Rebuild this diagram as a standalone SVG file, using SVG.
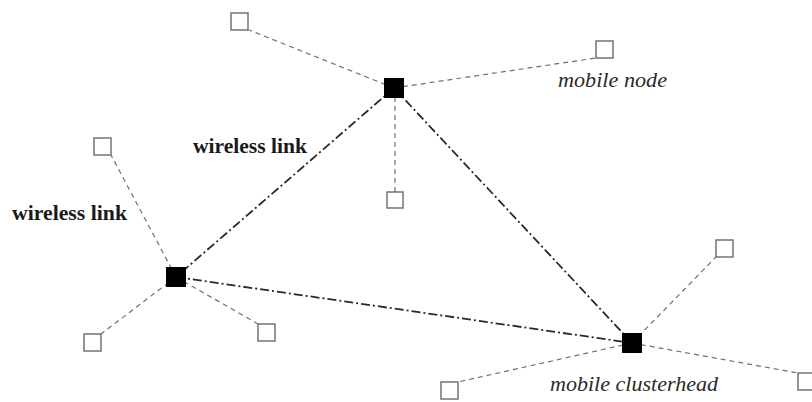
<svg xmlns="http://www.w3.org/2000/svg" width="812" height="402" viewBox="0 0 812 402">
  <style>
    .bg { fill: #ffffff; }
    .member { stroke: #707070; stroke-width: 1.2; stroke-dasharray: 5 4; fill: none; }
    .backbone { stroke: #2a2a2a; stroke-width: 1.8; stroke-dasharray: 9 3 2 3; fill: none; }
    .head { fill: #000000; }
    .node { fill: #ffffff; stroke: #6a6a6a; stroke-width: 1.4; }
    .lbl-b { font-family: "Liberation Serif", "Times New Roman", serif; font-weight: bold; font-size: 20.5px; fill: #1a1a1a; }
    .lbl-i { font-family: "Liberation Serif", "Times New Roman", serif; font-style: italic; font-size: 21px; fill: #2a2a2a; }
  </style>
  <rect class="bg" x="0" y="0" width="812" height="402"/>

  <g id="connectors">
    <!-- links between cluster heads -->
    <line class="backbone" x1="394" y1="88" x2="176" y2="277"/>
    <line class="backbone" x1="394" y1="88" x2="632" y2="343"/>
    <line class="backbone" x1="176" y1="277" x2="632" y2="343"/>
    <!-- members of the top cluster -->
    <line class="member" x1="394" y1="88" x2="249" y2="30"/>
    <line class="member" x1="394" y1="88" x2="596" y2="58"/>
    <line class="member" x1="395" y1="88" x2="395" y2="192"/>
    <!-- members of the left cluster -->
    <line class="member" x1="176" y1="277" x2="111" y2="155"/>
    <line class="member" x1="176" y1="277" x2="101" y2="334"/>
    <line class="member" x1="176" y1="277" x2="258" y2="324"/>
    <!-- members of the right cluster -->
    <line class="member" x1="632" y1="343" x2="716" y2="257"/>
    <line class="member" x1="632" y1="343" x2="458" y2="382"/>
    <line class="member" x1="632" y1="343" x2="798" y2="373"/>
  </g>

  <g id="ch-top"><rect class="head" x="384" y="78" width="20" height="20"/></g>
  <g id="ch-left"><rect class="head" x="166" y="267" width="20" height="20"/></g>
  <g id="ch-right"><rect class="head" x="622" y="333" width="20" height="20"/></g>

  <g id="mn-1"><rect class="node" x="231" y="13" width="17" height="17"/></g>
  <g id="mn-2"><rect class="node" x="596" y="41" width="17" height="17"/></g>
  <g id="mn-3"><rect class="node" x="387" y="192" width="16" height="16"/></g>
  <g id="mn-4"><rect class="node" x="94" y="138" width="17" height="17"/></g>
  <g id="mn-5"><rect class="node" x="84" y="334" width="17" height="17"/></g>
  <g id="mn-6"><rect class="node" x="258" y="324" width="17" height="17"/></g>
  <g id="mn-7"><rect class="node" x="716" y="240" width="17" height="17"/></g>
  <g id="mn-8"><rect class="node" x="441" y="382" width="17" height="17"/></g>
  <g id="mn-9"><rect class="node" x="798" y="373" width="17" height="17"/></g>

  <g id="labels">
    <text class="lbl-b" x="193" y="153" textLength="114" lengthAdjust="spacingAndGlyphs">wireless link</text>
    <text class="lbl-b" x="12" y="220" textLength="115" lengthAdjust="spacingAndGlyphs">wireless link</text>
    <text class="lbl-i" x="558" y="87" textLength="109" lengthAdjust="spacingAndGlyphs">mobile node</text>
    <text class="lbl-i" x="550" y="391" textLength="168" lengthAdjust="spacingAndGlyphs">mobile clusterhead</text>
  </g>
</svg>
